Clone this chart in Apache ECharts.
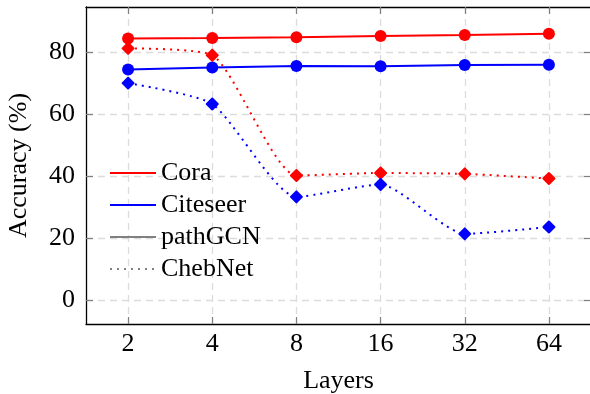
<!DOCTYPE html>
<html>
<head>
<meta charset="utf-8">
<script src="https://cdn.jsdelivr.net/npm/echarts@6/dist/echarts.min.js"></script>
<style>
  html, body { margin: 0; padding: 0; background: #fff; }
  #chart { width: 590px; height: 394px; }
</style>
</head>
<body>
<div id="chart"></div>
<script>
  // x positions are log2(layers): 1..6
  const layers = ["2", "4", "8", "16", "32", "64"];
  const xPos = [1, 2, 3, 4, 5, 6];
  const yTicks = [0, 20, 40, 60, 80];

  const coraPath = [84.3, 84.4, 84.7, 85.1, 85.4, 85.8];
  const citeseerPath = [74.3, 74.9, 75.4, 75.3, 75.7, 75.8];
  const coraCheb = [81.1, 78.9, 40.2, 41.0, 40.7, 39.2];
  const citeseerCheb = [69.9, 63.2, 33.3, 37.3, 21.4, 23.6];

  const font = "'Liberation Serif', 'Times New Roman', serif";
  const pair = arr => arr.map((v, i) => [xPos[i], v]);

  let chart = echarts.init(document.getElementById("chart"));

  const tickStyle = { show: true, inside: true, length: 7, lineStyle: { color: "#7f7f7f", width: 1.2 } };
  const gridLine = { show: true, lineStyle: { color: "#dcdcdc", width: 1.3, type: [7, 5] } };
  const frame = { show: true, onZero: false, lineStyle: { color: "#000", width: 1.3 } };

  let option = {
    animation: false,
    grid: { left: 86, right: -1, top: 7, bottom: 70, containLabel: false, outerBoundsMode: "none" },
    legend: {
      orient: "vertical",
      left: 104,
      top: 155,
      itemWidth: 46,
      itemHeight: 14,
      itemGap: 6,
      itemStyle: { opacity: 0 },
      data: ["Cora", "Citeseer", "pathGCN", "ChebNet"],
      textStyle: { fontFamily: font, fontSize: 26, color: "#000", lineHeight: 26 }
    },
    xAxis: [
      {
        type: "value",
        min: 0.5,
        max: 6.5,
        name: "Layers",
        nameLocation: "middle",
        nameGap: 44,
        nameTextStyle: { fontFamily: font, fontSize: 26, color: "#000" },
        axisLine: frame,
        axisTick: Object.assign({ customValues: xPos }, tickStyle),
        axisLabel: {
          customValues: xPos,
          formatter: v => layers[Math.round(v) - 1],
          fontFamily: font, fontSize: 26, color: "#000", margin: 7
        },
        splitLine: gridLine
      },
      {
        type: "value",
        position: "top",
        min: 0.5,
        max: 6.5,
        axisLine: frame,
        axisTick: Object.assign({ customValues: xPos }, tickStyle),
        axisLabel: { show: false },
        splitLine: { show: false }
      }
    ],
    yAxis: [
      {
        type: "value",
        min: -7.6,
        max: 94.4,
        name: "Accuracy (%)",
        nameLocation: "middle",
        nameGap: 54,
        nameTextStyle: { fontFamily: font, fontSize: 26, color: "#000" },
        axisLine: frame,
        axisTick: Object.assign({ customValues: yTicks }, tickStyle),
        axisLabel: { customValues: yTicks, fontFamily: font, fontSize: 26, color: "#000", margin: 11 },
        splitLine: gridLine
      },
      {
        type: "value",
        position: "right",
        min: -7.6,
        max: 94.4,
        axisLine: frame,
        axisTick: Object.assign({ customValues: yTicks }, tickStyle),
        axisLabel: { show: false },
        splitLine: { show: false }
      }
    ],
    series: [
      {
        name: "Cora pathGCN", type: "line", data: pair(coraPath),
        symbol: "circle", symbolSize: 12,
        itemStyle: { color: "#ff0000" },
        lineStyle: { color: "#ff0000", width: 2 }
      },
      {
        name: "Citeseer pathGCN", type: "line", data: pair(citeseerPath),
        symbol: "circle", symbolSize: 12,
        itemStyle: { color: "#0000ff" },
        lineStyle: { color: "#0000ff", width: 2 }
      },
      {
        name: "Cora ChebNet", type: "line", data: pair(coraCheb),
        symbol: "diamond", symbolSize: 11, smooth: 0.2,
        itemStyle: { color: "#ff0000", borderColor: "#ff0000", borderWidth: 2, borderJoin: "round" },
        lineStyle: { color: "#ff0000", width: 2, type: [2, 5] }
      },
      {
        name: "Citeseer ChebNet", type: "line", data: pair(citeseerCheb),
        symbol: "diamond", symbolSize: 11, smooth: 0.2,
        itemStyle: { color: "#0000ff", borderColor: "#0000ff", borderWidth: 2, borderJoin: "round" },
        lineStyle: { color: "#0000ff", width: 2, type: [2, 5] }
      },
      // legend-only entries
      { name: "Cora", type: "line", data: [], symbol: "none", itemStyle: { color: "#ff0000" }, lineStyle: { color: "#ff0000", width: 2 } },
      { name: "Citeseer", type: "line", data: [], symbol: "none", itemStyle: { color: "#0000ff" }, lineStyle: { color: "#0000ff", width: 2 } },
      { name: "pathGCN", type: "line", data: [], symbol: "none", itemStyle: { color: "#808080" }, lineStyle: { color: "#808080", width: 2 } },
      { name: "ChebNet", type: "line", data: [], symbol: "none", itemStyle: { color: "#808080" }, lineStyle: { color: "#808080", width: 2, type: [2, 5] } }
    ]
  };

  chart.setOption(option);
</script>
</body>
</html>
